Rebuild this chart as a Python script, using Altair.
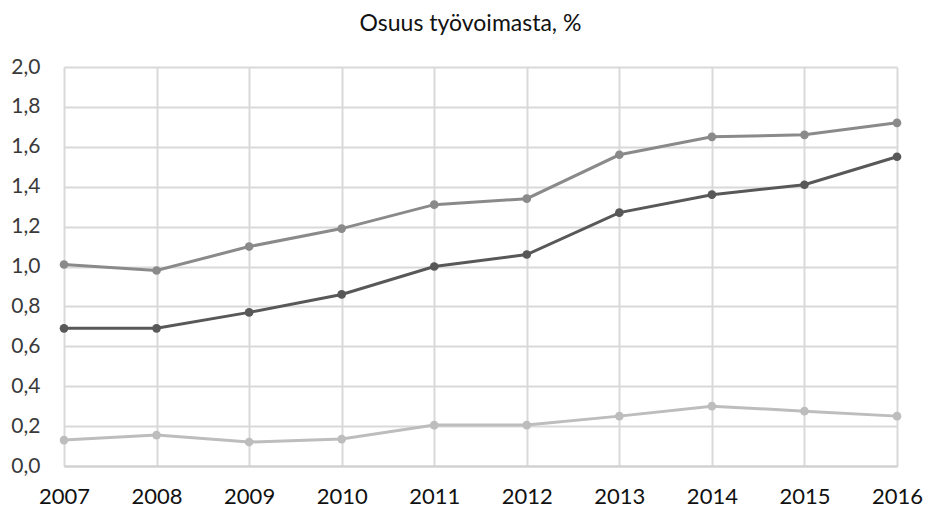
import altair as alt
import pandas as pd

years = [2007, 2008, 2009, 2010, 2011, 2012, 2013, 2014, 2015, 2016]
series_a = [1.01, 0.98, 1.10, 1.19, 1.31, 1.34, 1.56, 1.65, 1.66, 1.72]
series_b = [0.69, 0.69, 0.77, 0.86, 1.00, 1.06, 1.27, 1.36, 1.41, 1.55]
series_c = [0.13, 0.155, 0.12, 0.135, 0.205, 0.205, 0.25, 0.30, 0.275, 0.25]
names = ["A", "B", "C"]
colors = ["#8a8a8a", "#585858", "#bdbdbd"]

rows = []
for name, vals in zip(names, [series_a, series_b, series_c]):
    for y, v in zip(years, vals):
        rows.append({"year": y, "value": v, "series": name})
df = pd.DataFrame(rows)

chart = alt.Chart(df).mark_line(
    strokeWidth=3,
    point=alt.OverlayMarkDef(size=75, filled=True, opacity=1),
).encode(
    x=alt.X("year:Q", scale=alt.Scale(domain=[2007, 2016], nice=False, zero=False),
            axis=alt.Axis(title=None, values=years, format="d", labelPadding=20, labelFontSize=22,
                          labelFlush=False, labelOverlap=False, labelBound=False,
                          ticks=False, domainColor="#d0d0d0", domainWidth=2,
                          gridColor="#d9d9d9", gridWidth=2, labelColor="#111111", labelFont="Lato")),
    y=alt.Y("value:Q", scale=alt.Scale(domain=[0, 2.0], nice=False),
            axis=alt.Axis(title=None, values=[0, 0.2, 0.4, 0.6, 0.8, 1.0, 1.2, 1.4, 1.6, 1.8, 2.0],
                          labelExpr="replace(format(datum.value, '.1f'), '.', ',')",
                          labelPadding=24, labelFontSize=21, ticks=False, domain=False,
                          labelFlush=False, labelOverlap=False,
                          gridColor="#d9d9d9", gridWidth=2, labelColor="#3a3a3a", labelFont="Lato")),
    color=alt.Color("series:N", scale=alt.Scale(domain=names, range=colors), legend=None),
    order="series:N",
).properties(
    width=833,
    height=399,
    title=alt.Title("Osuus työvoimasta, %", fontSize=23, font="Lato", fontWeight="normal",
                    color="#111111", anchor="middle", offset=20, dx=-10),
    autosize=alt.AutoSizeParams(type="none"),
    padding={"left": 56, "top": 59, "right": 26, "bottom": 45},
).configure_view(stroke=None).configure(background="white")

chart.save("out.html", embed_options={"renderer": "svg", "actions": False})
